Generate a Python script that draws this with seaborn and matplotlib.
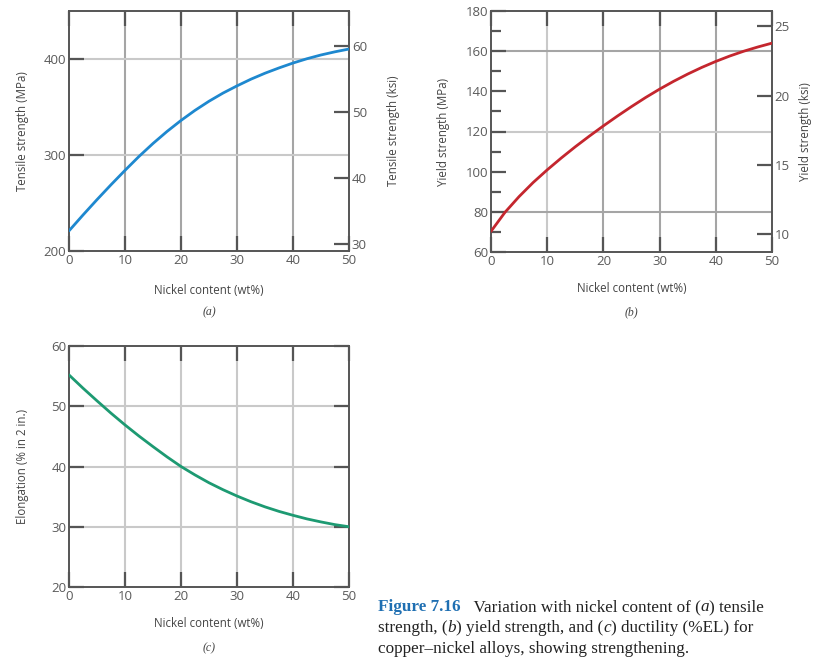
import numpy as np
import pandas as pd
import seaborn as sns
import matplotlib
matplotlib.use("Agg")
import matplotlib.pyplot as plt
from matplotlib.ticker import MultipleLocator, FixedLocator

# ---------------- data (every 2.5 wt% Ni) ----------------
nickel = [0, 2.5, 5, 7.5, 10, 12.5, 15, 17.5, 20, 22.5, 25,
          27.5, 30, 32.5, 35, 37.5, 40, 42.5, 45, 47.5, 50]
tensile_mpa = [221, 237.5, 253.5, 269, 284, 298.5, 312, 324.5, 336, 346.5, 356,
               364.5, 372, 379, 385.2, 390.7, 395.8, 400.3, 404.2, 407.5, 410.4]
yield_mpa = [70.3, 79.8, 87.6, 94.6, 100.9, 106.8, 112.4, 117.7, 122.8, 127.7, 132.4,
             136.9, 141.1, 145.0, 148.6, 151.9, 154.9, 157.6, 160.0, 162.1, 164.0]
elongation = [55.2, 53.0, 50.9, 48.85, 46.9, 45.05, 43.3, 41.6, 40.0, 38.6, 37.3,
              36.15, 35.1, 34.15, 33.3, 32.55, 31.9, 31.3, 30.8, 30.35, 30.0]

x_ticks = [0, 10, 20, 30, 40, 50]
a_yticks = [200, 300, 400]
a_ksi_ticks = [30, 40, 50, 60]
b_yticks = [60, 80, 100, 120, 140, 160, 180]
b_ksi_ticks = [10, 15, 20, 25]
c_yticks = [20, 30, 40, 50, 60]

MPA_PER_KSI = 6.895

sns.set_theme(style="white")
plt.rcParams["font.family"] = ["Open Sans", "DejaVu Sans"]

W, H = 814, 657
fig = plt.figure(figsize=(W / 100, H / 100), dpi=100)


def px_axes(left, top, right, bottom):
    return fig.add_axes([left / W, 1 - bottom / H, (right - left) / W, (bottom - top) / H])


TICK_C = "#555555"
LAB_C = "#5a5a5a"
AXLAB_C = "#444444"
GRID_L = "#c9c9c9"
GRID_D = "#a5a5a5"
SPINE_C = "#555555"
TL = 9.5   # tick label size
AL = 8.3   # axis label size


def style_axes(ax):
    for s in ax.spines.values():
        s.set_color(SPINE_C)
        s.set_linewidth(1.4)
    ax.tick_params(axis="both", which="major", direction="in", length=11,
                   width=1.6, color=TICK_C, labelsize=TL, labelcolor=LAB_C, pad=2)
    ax.tick_params(axis="x", top=True, bottom=True)
    ax.set_xlim(0, 50)
    ax.xaxis.set_major_locator(FixedLocator(x_ticks))


def vgrid(ax, colors):
    for xv, c in zip([10, 20, 30, 40], colors):
        ax.axvline(xv, color=c, lw=1.5, zorder=0.5)


def hgrid(ax, vals, colors):
    for yv, c in zip(vals, colors):
        ax.axhline(yv, color=c, lw=1.5, zorder=0.5)


def place_xlabel(ax, text, yc):
    ax.set_xlabel(text, fontsize=AL, color=AXLAB_C)
    ax.xaxis.set_label_coords(0.5, yc)
    ax.xaxis.label.set_verticalalignment("center")


def place_ylabel(ax, text, xc):
    ax.set_ylabel(text, fontsize=AL, color=AXLAB_C)
    ax.yaxis.set_label_coords(xc, 0.5)
    ax.yaxis.label.set_verticalalignment("center")


def right_axis(ax, lo, hi, ticks):
    ax2 = ax.twinx()
    ax2.set_ylim(lo / MPA_PER_KSI, hi / MPA_PER_KSI)
    ax2.yaxis.set_major_locator(FixedLocator(ticks))
    ax2.tick_params(axis="y", direction="in", length=11, width=1.6, color=TICK_C,
                    labelsize=TL, labelcolor=LAB_C, pad=2)
    for s in ax2.spines.values():
        s.set_visible(False)
    ax2.grid(False)
    return ax2


# ---------------- panel (a) ----------------
axa = px_axes(69, 11, 349, 251)
style_axes(axa)
axa.set_ylim(200, 450)
axa.yaxis.set_major_locator(FixedLocator(a_yticks))
axa.tick_params(axis="y", right=False)
vgrid(axa, [GRID_D, GRID_D, GRID_D, GRID_D])
hgrid(axa, [300, 400], [GRID_L, GRID_L])
sns.lineplot(x=nickel, y=tensile_mpa, ax=axa, color="#1e88cf", lw=2.0, zorder=3)
place_xlabel(axa, "Nickel content (wt%)", -0.165)
place_ylabel(axa, "Tensile strength (MPa)", -0.165)
axa2 = right_axis(axa, 200, 450, a_ksi_ticks)
place_ylabel(axa2, "Tensile strength (ksi)", 1.16)
fig.text((69 + 349) / 2 / W, 1 - 312 / H, "(a)", ha="center", va="center",
         fontsize=8.5, style="italic", family="Liberation Serif", color="#444444")

# ---------------- panel (b) ----------------
axb = px_axes(491, 11, 772, 252)
style_axes(axb)
axb.set_ylim(60, 180)
axb.yaxis.set_major_locator(FixedLocator(b_yticks))
axb.yaxis.set_minor_locator(MultipleLocator(10))
axb.tick_params(axis="y", which="minor", direction="in", length=7, width=1.6,
                color=TICK_C, left=True, right=False)
axb.tick_params(axis="y", right=False)
vgrid(axb, [GRID_L, GRID_D, GRID_D, GRID_D])
hgrid(axb, [80, 120, 160], [GRID_D, GRID_L, GRID_D])
sns.lineplot(x=nickel, y=yield_mpa, ax=axb, color="#c4262e", lw=2.0, zorder=3)
place_xlabel(axb, "Nickel content (wt%)", -0.152)
place_ylabel(axb, "Yield strength (MPa)", -0.168)
axb2 = right_axis(axb, 60, 180, b_ksi_ticks)
place_ylabel(axb2, "Yield strength (ksi)", 1.118)
fig.text((491 + 772) / 2 / W, 1 - 312 / H, "(b)", ha="center", va="center",
         fontsize=8.5, style="italic", family="Liberation Serif", color="#444444")

# ---------------- panel (c) ----------------
axc = px_axes(69, 346, 349, 587)
style_axes(axc)
axc.set_ylim(20, 60)
axc.yaxis.set_major_locator(FixedLocator(c_yticks))
axc.tick_params(axis="y", right=True, left=True)
vgrid(axc, [GRID_L, GRID_L, GRID_L, GRID_L])
hgrid(axc, [30, 40, 50], [GRID_L, GRID_L, GRID_L])
sns.lineplot(x=nickel, y=elongation, ax=axc, color="#1d9a72", lw=2.0, zorder=3)
place_xlabel(axc, "Nickel content (wt%)", -0.152)
place_ylabel(axc, "Elongation (% in 2 in.)", -0.165)
fig.text((69 + 349) / 2 / W, 1 - 648 / H, "(c)", ha="center", va="center",
         fontsize=8.5, style="italic", family="Liberation Serif", color="#444444")

# ---------------- caption ----------------
fig.canvas.draw()
renderer = fig.canvas.get_renderer()
BLUE = "#1f6fb2"
TXT = "#222222"
lines = [
    [("Figure 7.16", "bold", "normal", BLUE), ("   Variation with nickel content of (", "normal", "normal", TXT),
     ("a", "normal", "italic", TXT), (") tensile", "normal", "normal", TXT)],
    [("strength, (", "normal", "normal", TXT), ("b", "normal", "italic", TXT),
     (") yield strength, and (", "normal", "normal", TXT), ("c", "normal", "italic", TXT),
     (") ductility (%EL) for", "normal", "normal", TXT)],
    [("copper\u2013nickel alloys, showing strengthening.", "normal", "normal", TXT)],
]
y_px = [607, 628, 649]
for parts, yp in zip(lines, y_px):
    xp = 378
    for s, wt, st, col in parts:
        t = fig.text(xp / W, 1 - yp / H, s, ha="left", va="center", fontsize=12.3,
                     family="Liberation Serif", weight=wt, style=st, color=col)
        bb = t.get_window_extent(renderer=renderer)
        xp = bb.x1

fig.savefig("out.png", dpi=100)
